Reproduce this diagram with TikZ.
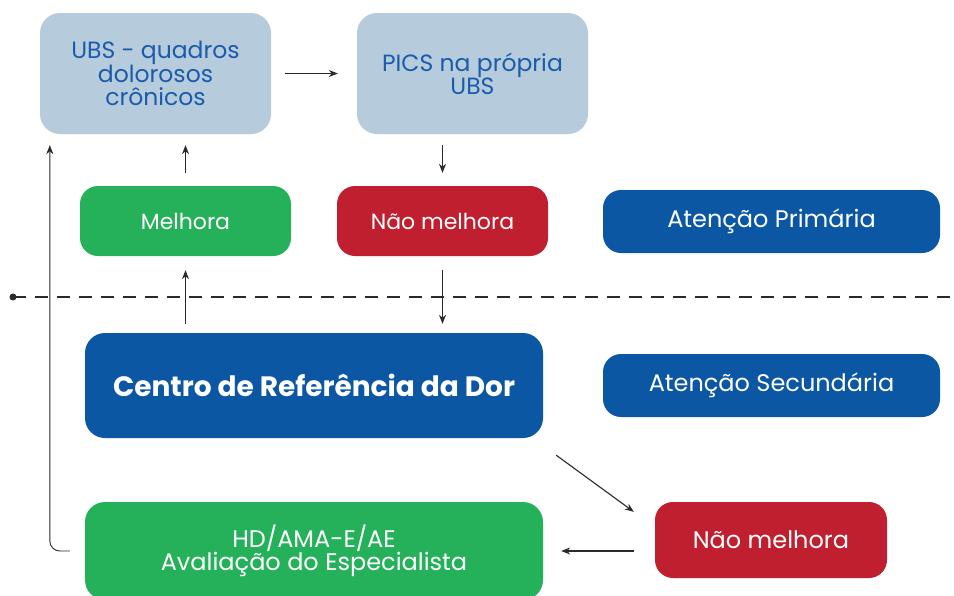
\documentclass[tikz,border=0pt]{standalone}
\usepackage{fontspec}
\setmainfont{Poppins}
\usetikzlibrary{arrows.meta,calc}
\definecolor{lightbox}{HTML}{B6CCDC}
\definecolor{darktext}{HTML}{1A5CAA}
\definecolor{greenbox}{HTML}{25B15A}
\definecolor{redbox}{HTML}{BF1F2E}
\definecolor{bluebox}{HTML}{0B57A4}
\definecolor{linec}{HTML}{2A2A2A}
\tikzset{
  box/.style={rounded corners=18pt, inner sep=0pt, align=center, text=white, font=\fontsize{22}{24}\selectfont},
  lbox/.style={box, fill=lightbox, text=darktext, rounded corners=20pt, font=\fontsize{23.5}{23}\selectfont},
  gbox/.style={box, fill=greenbox},
  rbox/.style={box, fill=redbox},
  bbox/.style={box, fill=bluebox},
  arr/.style={draw=linec, line width=1.1pt, -{Stealth[length=9pt,width=7pt]}},
}
\begin{document}
\begin{tikzpicture}[x=1pt,y=-1pt]
\clip (0,0) rectangle (954,595);
\fill[white] (0,0) rectangle (954,595);
\node[lbox, minimum width=231pt, minimum height=121pt] (ubs) at (155.5,73.5) {UBS - quadros\\dolorosos\\crônicos};
\node[lbox, minimum width=231pt, minimum height=121pt] (pics) at (472.5,73.5) {PICS na própria\\UBS};
\node[gbox, minimum width=211pt, minimum height=70pt] (mel) at (185.5,221) {Melhora};
\node[rbox, minimum width=211pt, minimum height=70pt] (nm1) at (442.5,221) {Não melhora};
\node[bbox, minimum width=337pt, minimum height=63pt, font=\fontsize{24}{26}\selectfont] (ap) at (771.5,221.5) {Atenção Primária};
\node[bbox, minimum width=458pt, minimum height=105pt, rounded corners=20pt, font=\fontsize{28}{30}\selectfont\bfseries] (cen) at (314,385.5) {Centro de Referência da Dor};
\node[bbox, minimum width=337pt, minimum height=63pt, font=\fontsize{24}{26}\selectfont] (as) at (771.5,385.5) {Atenção Secundária};
\node[rbox, minimum width=232pt, minimum height=76pt, font=\fontsize{24}{24}\selectfont] (nm2) at (771,540) {Não melhora};
\node[gbox, minimum width=458pt, minimum height=98pt, rounded corners=20pt, font=\fontsize{24}{23}\selectfont] (hd) at (314,551) {HD/AMA-E/AE\\Avaliação do Especialista};
% dashed divider
\coordinate (dl) at (13,297);
\coordinate (dr) at (954,297);
\fill[linec] (dl) circle (3.5pt);
\draw[linec, line width=1.2pt, dash pattern=on 13pt off 9pt] (dl) -- (dr);
% connectors
\draw[arr, shorten <=14pt, shorten >=19pt] (ubs.east) -- (pics.west);
\draw[arr, shorten <=11pt, shorten >=13pt] (nm1.north |- pics.south) -- (nm1.north);
\draw[arr, shorten <=13pt, shorten >=11pt] (mel.north) -- (mel.north |- ubs.south);
\draw[arr, shorten <=14pt, shorten >=9pt] (nm1.south) -- (nm1.south |- cen.north);
\draw[arr, shorten <=9pt, shorten >=14pt] (mel.south |- cen.north) -- (mel.south);
\draw[arr] ($(cen.south east)+(13,17)$) -- ($(nm2.north west)+(-21,10)$);
\draw[arr, shorten <=21pt, shorten >=18pt] (nm2.west |- hd.east) -- (hd.east);
\draw[arr, line width=0.9pt, rounded corners=10pt, shorten >=11pt] ($(hd.west)+(-15,0)$) -| ($(ubs.south west)+(10,0)$);
\end{tikzpicture}
\end{document}
